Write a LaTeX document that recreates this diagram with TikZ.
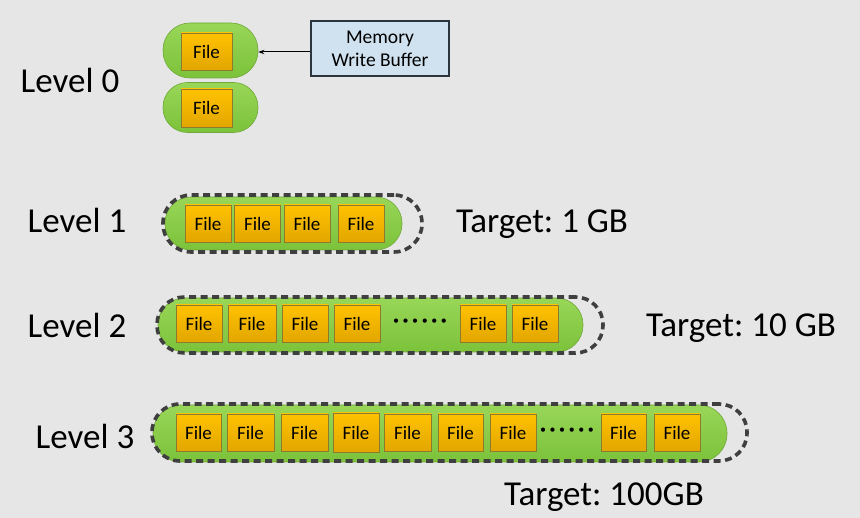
\documentclass[tikz,border=0pt]{standalone}
\usepackage{fontspec}
\setmainfont{Carlito}
\frenchspacing
\usetikzlibrary{arrows.meta}
\definecolor{bg}{HTML}{E6E6E6}
\definecolor{gtop}{HTML}{98D658}
\definecolor{gbot}{HTML}{7CC23A}
\definecolor{gedge}{HTML}{6FA83A}
\definecolor{ftop}{HTML}{FFC200}
\definecolor{fbot}{HTML}{E2A600}
\definecolor{fedge}{HTML}{8C7A2E}
\definecolor{memfill}{HTML}{D0E2EF}
\definecolor{memedge}{HTML}{2A3540}
\definecolor{dashc}{HTML}{3F3F3F}
\newcommand{\dotrow}{•\kern3.6pt•\kern3.6pt•\kern3.6pt•\kern3.6pt•\kern3.6pt•}
\tikzset{
  lbl/.style={font=\fontsize{35}{40}\selectfont, inner sep=0pt},
  filebox/.style={draw=fedge, line width=0.8pt, top color=ftop, bottom color=fbot,
    minimum width=46pt, minimum height=37pt, inner sep=0pt,
    font=\fontsize{19}{20}\selectfont},
  pill/.style={draw=gedge, line width=0.6pt, top color=gtop, bottom color=gbot, inner sep=0pt},
  dashpill/.style={draw=dashc, line width=3.6pt, dash pattern=on 7pt off 4.5pt, inner sep=0pt},
  dotsnode/.style={font=\fontsize{12}{13}\selectfont, inner sep=0pt},
}
\begin{document}
\begin{tikzpicture}[x=1pt,y=-1pt]
\fill[bg] (0,0) rectangle (860,518);
\useasboundingbox (0,0) rectangle (860,518);

% Level 0
\node[lbl] (l0) at (70,80) {Level 0};
\node[pill, minimum width=95pt, minimum height=55pt, rounded corners=27pt] (p01) at (210.5,50.5) {};
\node[pill, minimum width=95pt, minimum height=50pt, rounded corners=24.5pt] (p02) at (210.5,107.5) {};
\node[filebox, minimum width=51pt] (f01) at (206.5,51.5) {File};
\node[filebox, minimum width=51pt, minimum height=38pt] (f02) at (206.5,108) {File};
\node[draw=memedge, line width=1.2pt, fill=memfill, minimum width=138pt, minimum height=55pt,
  align=center, font=\fontsize{19.5}{23}\selectfont, inner sep=0pt] (mem) at (380,48.5) {Memory\\Write Buffer};
\draw[-{Stealth[length=6pt,width=4.5pt]}, line width=1pt] (mem.west |- 0,52) coordinate (ms) -- (p01.east |- 0,52);

% Level 1
\node[lbl] (l1) at (77,220) {Level 1};
\node[pill, minimum width=237pt, minimum height=53pt, rounded corners=26pt] (p1) at (283.5,223.5) {};
\node[dashpill, minimum width=259pt, minimum height=57pt, rounded corners=28pt] (d1) at (292.5,223.5) {};
\node[filebox] (f11) at (208,223.5) {File};
\node[filebox] (f12) at (257.5,223.5) {File};
\node[filebox] (f13) at (307,223.5) {File};
\node[filebox] (f14) at (361,223.5) {File};
\node[lbl] (t1) at (542,224) {Target: 1 GB};

% Level 2
\node[lbl] (l2) at (77,325) {Level 2};
\node[pill, minimum width=425pt, minimum height=54pt, rounded corners=26.5pt] (p2) at (370.5,325) {};
\node[dashpill, minimum width=446pt, minimum height=56pt, rounded corners=27.5pt] (d2) at (380,325) {};
\node[filebox] (f21) at (199,323.5) {File};
\node[filebox, minimum width=48pt] (f22) at (252,323.5) {File};
\node[filebox] (f23) at (305,323.5) {File};
\node[filebox] (f24) at (357,323.5) {File};
\node[dotsnode] (dots2) at (420,322) {\dotrow};
\node[filebox] (f25) at (483,323.5) {File};
\node[filebox] (f26) at (535,323.5) {File};
\node[lbl] (t2) at (741,328) {Target: 10 GB};

% Level 3
\node[lbl] (l3) at (85,436) {Level 3};
\node[pill, minimum width=574pt, minimum height=57pt, rounded corners=28pt] (p3) at (440,433.5) {};
\node[dashpill, minimum width=595pt, minimum height=57pt, rounded corners=28pt] (d3) at (449.5,432.5) {};
\node[filebox, minimum width=45pt] (f31) at (198.5,432.5) {File};
\node[filebox, minimum width=47pt] (f32) at (250.5,432.5) {File};
\node[filebox, minimum width=47pt] (f33) at (304.5,432.5) {File};
\node[filebox, minimum height=39pt] (f34) at (356,432.5) {File};
\node[filebox, minimum width=47pt] (f35) at (407.5,432.5) {File};
\node[filebox, minimum width=45pt] (f36) at (460.5,432.5) {File};
\node[filebox] (f37) at (513,432.5) {File};
\node[dotsnode] (dots3) at (567,431) {\dotrow};
\node[filebox, minimum width=45pt] (f38) at (623.5,432.5) {File};
\node[filebox] (f39) at (677,432.5) {File};
\node[lbl] (t3) at (604,497) {Target: 100GB};
\end{tikzpicture}
\end{document}
